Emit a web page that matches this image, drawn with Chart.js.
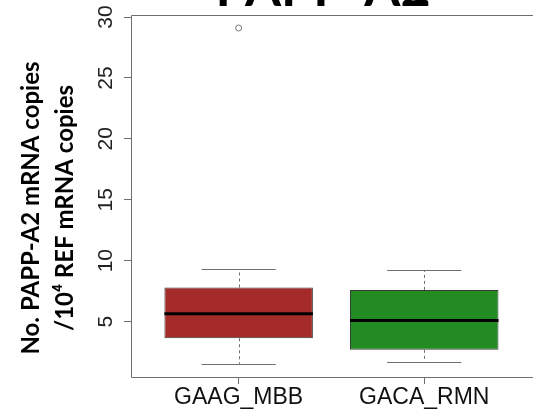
<!DOCTYPE html>
<html>
<head>
<meta charset="utf-8">
<script src="https://cdn.jsdelivr.net/npm/chart.js@4"></script>
<style>
  html, body { margin: 0; padding: 0; background: #fff; overflow: hidden; }
  #wrap { width: 533px; height: 409px; }
</style>
</head>
<body>
<div id="wrap"><canvas id="grafico" width="533" height="409"></canvas></div>
<script>
// Dados (boxplot)
const categorias = ['GAAG_MBB', 'GACA_RMN'];
const bigodeInf = [1.53, 1.70];
const quartil1 = [3.63, 2.68];
const mediana = [5.65, 5.08];
const quartil3 = [7.80, 7.60];
const bigodeSup = [9.30, 9.24];
const outliers = [[29.1], []];
const coresCaixa = ['#a52a2a', '#228b22'];
const ticksY = [5, 10, 15, 20, 25, 30];
const tituloGrafico = 'PAPP-A2';
const tituloY = ['No. PAPP-A2 mRNA copies', '/10\u2074 REF mRNA copies'];

const corEixo = '#6e6e6e';

// caixas como barras flutuantes (q1 -> q3)
const dadosCaixas = categorias.map((c, i) => ({ x: i + 1, y: [quartil1[i], quartil3[i]] }));
const dadosOutliers = [];
outliers.forEach((lista, i) => lista.forEach(v => dadosOutliers.push({ x: i + 1, y: v })));

// ============================
// PLUGIN: bigodes, mediana, moldura e textos
// ============================
const pluginBoxplot = {
    id: 'boxplot',
    afterDatasetsDraw(chart) {
        const { ctx, scales: { x, y } } = chart;
        ctx.save();
        categorias.forEach((c, i) => {
            const cx = Math.round(x.getPixelForValue(i + 1)) + 0.5;
            const capL = x.getPixelForValue(i + 1 - 0.2);
            const capR = x.getPixelForValue(i + 1 + 0.2);
            // linhas tracejadas
            ctx.strokeStyle = corEixo;
            ctx.lineWidth = 1;
            ctx.setLineDash([3, 3]);
            ctx.beginPath();
            ctx.moveTo(cx, y.getPixelForValue(quartil3[i]));
            ctx.lineTo(cx, y.getPixelForValue(bigodeSup[i]));
            ctx.moveTo(cx, y.getPixelForValue(quartil1[i]));
            ctx.lineTo(cx, y.getPixelForValue(bigodeInf[i]));
            ctx.stroke();
            ctx.setLineDash([]);
            // tampas dos bigodes
            ctx.beginPath();
            [bigodeSup[i], bigodeInf[i]].forEach(v => {
                const py = Math.round(y.getPixelForValue(v)) + 0.5;
                ctx.moveTo(capL, py);
                ctx.lineTo(capR, py);
            });
            ctx.stroke();
            // mediana
            const boxL = x.getPixelForValue(i + 1 - 0.4);
            const boxR = x.getPixelForValue(i + 1 + 0.4);
            ctx.strokeStyle = '#000';
            ctx.lineWidth = 3;
            ctx.beginPath();
            ctx.moveTo(boxL, y.getPixelForValue(mediana[i]));
            ctx.lineTo(boxR, y.getPixelForValue(mediana[i]));
            ctx.stroke();
        });
        ctx.restore();
    },
    afterDraw(chart) {
        const { ctx, chartArea, scales: { y } } = chart;
        ctx.save();
        // moldura (lado direito fica fora da imagem)
        ctx.strokeStyle = corEixo;
        ctx.lineWidth = 1;
        ctx.beginPath();
        ctx.moveTo(chart.width + 5, chartArea.top + 0.5);
        ctx.lineTo(chartArea.left + 0.5, chartArea.top + 0.5);
        ctx.lineTo(chartArea.left + 0.5, chartArea.bottom + 0.5);
        ctx.lineTo(chart.width + 5, chartArea.bottom + 0.5);
        ctx.stroke();
        // rótulos do eixo Y (rotacionados, estilo R)
        ctx.fillStyle = '#222';
        ctx.font = '21px "Liberation Sans", Arial, sans-serif';
        ctx.textAlign = 'center';
        ctx.textBaseline = 'alphabetic';
        ticksY.forEach(v => {
            ctx.save();
            ctx.translate(112, y.getPixelForValue(v));
            ctx.rotate(-Math.PI / 2);
            ctx.fillText(String(v), 0, 0);
            ctx.restore();
        });
        // título do eixo Y
        ctx.fillStyle = '#000';
        ctx.font = 'bold 24px Lato, "Open Sans", sans-serif';
        ctx.textBaseline = 'middle';
        tituloY.forEach((linha, k) => {
            ctx.save();
            ctx.translate(31 + k * 34, 208);
            ctx.rotate(-Math.PI / 2);
            ctx.fillText(linha, 0, 0);
            ctx.restore();
        });
        // título (cortado no topo)
        ctx.font = 'bold 52px Lato, "Liberation Sans", sans-serif';
        ctx.textBaseline = 'alphabetic';
        ctx.fillText(tituloGrafico, 323, 6);
        ctx.restore();
    }
};

new Chart(document.getElementById('grafico'), {
    type: 'bar',
    data: {
        datasets: [
            {
                type: 'bar',
                data: dadosCaixas,
                backgroundColor: coresCaixa,
                borderColor: '#3a3a3a',
                borderWidth: 1,
                borderSkipped: false,
                barPercentage: 0.8,
                categoryPercentage: 1.0
            },
            {
                type: 'scatter',
                data: dadosOutliers,
                pointStyle: 'circle',
                pointRadius: 3,
                backgroundColor: 'rgba(0,0,0,0)',
                borderColor: '#777',
                borderWidth: 1
            }
        ]
    },
    options: {
        responsive: false,
        animation: false,
        layout: { padding: { top: 15, left: 0, right: 0, bottom: 0 } },
        plugins: {
            legend: { display: false },
            tooltip: { enabled: false }
        },
        scales: {
            x: {
                type: 'linear',
                offset: false,
                min: 0.42,
                max: 2.559,
                afterBuildTicks: s => { s.ticks = categorias.map((c, i) => ({ value: i + 1 })); },
                afterFit: s => { s.height = 32; s.paddingLeft = 0; s.paddingRight = 0; },
                border: { display: false },
                grid: { drawOnChartArea: false, drawTicks: true, tickLength: 7, color: corEixo, offset: false },
                ticks: {
                    callback: v => categorias[v - 1] || '',
                    color: '#111',
                    padding: 0,
                    maxRotation: 0,
                    font: { family: '"Liberation Sans", Arial, sans-serif', size: 23 }
                }
            },
            y: {
                min: 0.45,
                max: 30.17,
                afterBuildTicks: s => { s.ticks = ticksY.map(v => ({ value: v })); },
                afterFit: s => { s.width = 131; s.paddingTop = 0; s.paddingBottom = 0; },
                border: { display: false },
                grid: { drawOnChartArea: false, drawTicks: true, tickLength: 7, color: corEixo },
                ticks: { display: false }
            }
        }
    },
    plugins: [pluginBoxplot]
});
</script>
</body>
</html>
